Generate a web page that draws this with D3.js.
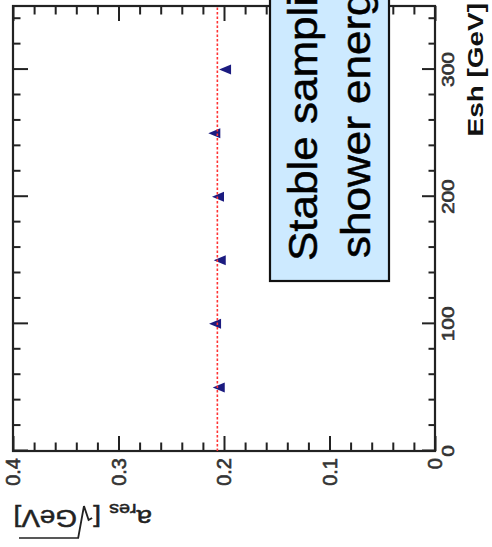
<!DOCTYPE html>
<html><head><meta charset="utf-8">
<script src="https://cdn.jsdelivr.net/npm/d3@7"></script>
<style>html,body{margin:0;padding:0;background:#fff;overflow:hidden}</style>
</head><body>
<script>
// Fitted sampling term versus shower energy
const energies = [50, 100, 150, 200, 250, 300];                 // Esh [GeV]
const aRes = [0.205, 0.2085, 0.204, 0.2057, 0.2092, 0.199];     // a_res [sqrt(GeV)]
const fitConstant = 0.2063;                                     // constant fit over all energies
const eshMajor = [0, 100, 200, 300];
const eshMinor = [20, 40, 60, 80, 120, 140, 160, 180, 220, 240, 260, 280, 320, 340];
const aMajor = [0, 0.1, 0.2, 0.3, 0.4];
const aMinor = [0.02, 0.04, 0.06, 0.08, 0.12, 0.14, 0.16, 0.18, 0.22, 0.24, 0.26, 0.28, 0.32, 0.34, 0.36, 0.38];
const eshLabels = ["0", "100", "200", "300"];
const aLabels = ["0", "0.1", "0.2", "0.3", "0.4"];
const boxLines = ["Stable sampling", "shower energy"];

const W = 492, H = 547;
const FONT = "'Liberation Sans', Arial, Helvetica, sans-serif";
const svg = d3.select("body").append("svg").attr("width", W).attr("height", H)
  .style("display", "block");

// The plot is laid out landscape (H wide, W tall) and then turned a quarter turn.
const g = svg.append("g").attr("transform", `translate(0,${H}) rotate(-90)`);

const x = d3.scaleLinear().domain([0, 350]).range([96, 541]);
const y = d3.scaleLinear().domain([0, 0.4]).range([435, 13]);
const AX = "#222";

function tickAxis(axis, tf, vals, size) {
  const a = g.append("g").attr("transform", tf)
    .call(axis.tickValues(vals).tickSizeInner(size).tickSizeOuter(0).tickFormat(""));
  a.select(".domain").remove();
  a.selectAll("line").attr("stroke", AX).attr("stroke-width", 2);
  return a;
}
// ticks, all pointing into the frame
tickAxis(d3.axisBottom(x), `translate(0,${y(0)})`, eshMajor, -13);
tickAxis(d3.axisBottom(x), `translate(0,${y(0)})`, eshMinor, -6.5);
tickAxis(d3.axisTop(x), `translate(0,${y(0.4)})`, eshMajor, -15);
tickAxis(d3.axisTop(x), `translate(0,${y(0.4)})`, eshMinor, -7.5);
tickAxis(d3.axisLeft(y), `translate(${x(0)},0)`, aMajor, -15);
tickAxis(d3.axisLeft(y), `translate(${x(0)},0)`, aMinor, -8.5);
tickAxis(d3.axisRight(y), `translate(${x(350)},0)`, aMajor, -15);
tickAxis(d3.axisRight(y), `translate(${x(350)},0)`, aMinor, -8.5);

// frame
g.append("rect")
  .attr("x", x(0)).attr("y", y(0.4))
  .attr("width", x(350) - x(0)).attr("height", y(0) - y(0.4))
  .attr("fill", "none").attr("stroke", AX).attr("stroke-width", 2.2);

// tick labels
g.append("g").selectAll("text").data(eshMajor).join("text")
  .attr("transform", d => `translate(${x(d)},${y(0) + 19}) scale(1.3,1)`)
  .attr("text-anchor", "middle")
  .attr("font-family", FONT).attr("font-size", 16)
  .attr("fill", "#333").attr("stroke", "#333").attr("stroke-width", 0.6)
  .text((d, i) => eshLabels[i]);

g.append("g").selectAll("text").data(aMajor).join("text")
  .attr("transform", d => `translate(${x(0) - 7},${y(d) + 7})`)
  .attr("text-anchor", "end")
  .attr("font-family", FONT).attr("font-size", 20)
  .attr("fill", "#333").attr("stroke", "#333").attr("stroke-width", 0.6)
  .text((d, i) => aLabels[i]);

// axis titles
g.append("text")
  .attr("transform", `translate(544,483) scale(1.27,1)`)
  .attr("text-anchor", "end")
  .attr("font-family", FONT).attr("font-weight", "bold").attr("font-size", 22)
  .attr("fill", "#111")
  .text("Esh [GeV]");

// a_res [sqrt(GeV)] title, reading upwards along the left axis
const yt = g.append("g").attr("transform", `translate(37,152) rotate(-90) scale(1.16,1)`)
  .attr("fill", "#222").attr("stroke", "#222").attr("stroke-width", 0.5);
let cx = 0;
function run(txt, size, dy) {
  const t = yt.append("text").attr("x", cx).attr("y", dy)
    .attr("font-family", FONT).attr("font-size", size)
    .text(txt);
  const w = t.node().getComputedTextLength();
  const x0 = cx;
  cx += w;
  return [x0, cx];
}
run("a", 24, 0);
run("res", 17, 6);
cx += 7;
run("[", 24, 0);
// radical sign with its bar over GeV
const r0 = cx + 1;
cx += 14;
const gev = run("GeV", 24, 0);
yt.append("path")
  .attr("d", `M${r0},${-8} L${r0 + 3},${-10} L${r0 + 7},${4} L${r0 + 12},${-28} L${gev[1] + 2},${-28}`)
  .attr("fill", "none").attr("stroke-width", 1.6);
run("]", 24, 0);

// data markers
const tri = (b, h) => `M0,${-h / 2} L${b / 2},${h / 2} L${-b / 2},${h / 2} Z`;
g.append("g").selectAll("path").data(energies).join("path")
  .attr("transform", (d, i) => `translate(${x(d)},${y(aRes[i])})`)
  .attr("d", tri(10, 12))
  .attr("fill", "#1b1b80");

// constant fit
g.append("line")
  .attr("x1", x(0)).attr("x2", x(350))
  .attr("y1", y(fitConstant)).attr("y2", y(fitConstant))
  .attr("stroke", "#ff3333").attr("stroke-width", 1.6)
  .attr("stroke-dasharray", "2.5,2");

// annotation box
g.append("rect")
  .attr("x", 266).attr("y", 270).attr("width", 400).attr("height", 119)
  .attr("fill", "#cdeaff").attr("stroke", "#111").attr("stroke-width", 2.2);
g.append("g").selectAll("text").data(boxLines).join("text")
  .attr("transform", (d, i) => `translate(${i ? 289 : 286},${i ? 370 : 317}) scale(1.1,1)`)
  .attr("font-family", FONT).attr("font-size", 40)
  .attr("fill", "#000").attr("stroke", "#000").attr("stroke-width", 0.5)
  .text(d => d);
</script>
</body></html>
